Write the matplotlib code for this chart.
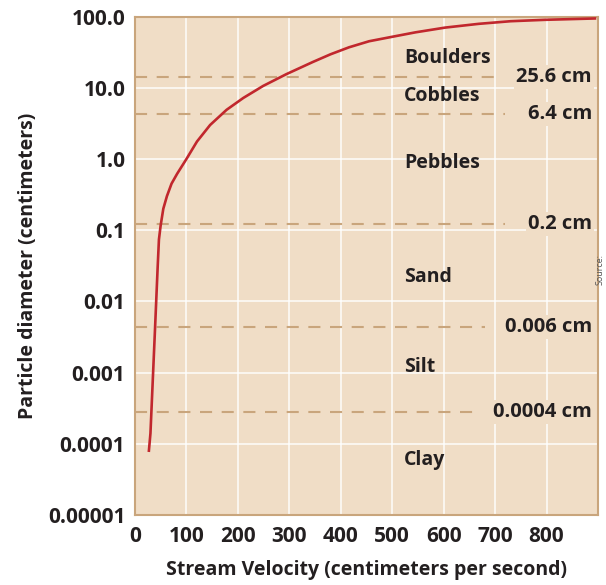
import matplotlib.pyplot as plt
import numpy as np

plt.rcParams["font.family"] = ["Open Sans", "DejaVu Sans"]
plt.rcParams["font.weight"] = "bold"

# Curva de velocidad vs diametro
velocity = [27, 30, 39, 44, 46.5, 49.8, 55, 62, 71, 81.9, 100, 120.5, 146,
            178, 210.6, 249, 294, 345.6, 380, 416, 455, 500, 545, 603, 668,
            730, 797, 894]
diameter = [8e-5, 1.4e-4, 4.3e-3, 0.03, 0.074, 0.116, 0.2, 0.3, 0.45, 0.62,
            1.0, 1.76, 3.0, 4.9, 7.2, 10.6, 15.5, 23, 29.5, 37, 45, 52, 60, 70,
            79, 86, 90, 94]

# Limites entre clases de sedimento
boundary_labels = ["25.6 cm", "6.4 cm", "0.2 cm", "0.006 cm", "0.0004 cm"]
boundary_values = [14.3, 4.3, 0.121, 0.0043, 0.00028]
boundary_dash_end = [0.79, 0.80, 0.80, 0.755, 0.74]

classes = ["Boulders", "Cobbles", "Pebbles", "Sand", "Silt", "Clay"]
class_ypos = [0.917, 0.841, 0.706, 0.477, 0.297, 0.110]

y_ticks = [1e-5, 1e-4, 1e-3, 1e-2, 1e-1, 1, 10, 100]
y_ticklabels = ["0.00001", "0.0001", "0.001", "0.01", "0.1", "1.0", "10.0", "100.0"]
x_ticks = [0, 100, 200, 300, 400, 500, 600, 700, 800]

bg = "#f0ddc6"
tan = "#c9a57c"
dark = "#231f20"

fig = plt.figure(figsize=(6.06, 5.85), dpi=100)
ax = fig.add_axes([0.2228, 0.1197, 0.764, 0.852])
ax.set_facecolor(bg)
ax.set_yscale("log")
ax.set_xlim(0, 900)
ax.set_ylim(1e-5, 100)

# Cuadricula blanca
for xv in x_ticks[1:]:
    ax.axvline(xv, color="white", linewidth=1.2, alpha=0.85, zorder=1)
for yv in y_ticks[1:-1]:
    ax.axhline(yv, color="white", linewidth=1.2, alpha=0.85, zorder=1)

# Lineas discontinuas de los limites
for val, xe, lab in zip(boundary_values, boundary_dash_end, boundary_labels):
    ax.plot([0, 900 * xe], [val, val], color=tan, linestyle=(0, (5.8, 4.6)),
            linewidth=1.5, zorder=2)
    ax.text(0.987, val, lab, transform=ax.get_yaxis_transform(), ha="right",
            va="center", fontsize=14.5, fontweight="bold", color=dark, zorder=4,
            bbox=dict(boxstyle="square,pad=0.1", facecolor=bg, edgecolor="none"))

for name, yp in zip(classes, class_ypos):
    ax.text(0.581, yp, name, transform=ax.transAxes, ha="left", va="center",
            fontsize=14, fontweight="bold", color=dark, zorder=4)

ax.plot(velocity, diameter, color="#c1272d", linewidth=1.9, zorder=3)

ax.set_yticks(y_ticks)
ax.set_yticklabels(y_ticklabels)
ax.yaxis.set_minor_locator(plt.NullLocator())
ax.set_xticks(x_ticks)
ax.tick_params(axis="both", length=0, labelsize=15, colors=dark)
ax.tick_params(axis="y", pad=7)
ax.tick_params(axis="x", pad=8)
for lab in ax.get_xticklabels() + ax.get_yticklabels():
    lab.set_fontweight("bold")

ax.set_xlabel("Stream Velocity (centimeters per second)", fontsize=14,
              fontweight="bold", color=dark, labelpad=9)
ax.set_ylabel("Particle diameter (centimeters)", fontsize=14,
              fontweight="bold", color=dark, labelpad=7)

for spine in ax.spines.values():
    spine.set_edgecolor(tan)
    spine.set_linewidth(1.5)

fig.text(0.99, 0.54, "Source:", rotation=90, fontsize=6.5, color="#555555",
         fontweight="normal", ha="center", va="center")

plt.savefig("out.png", dpi=100)
